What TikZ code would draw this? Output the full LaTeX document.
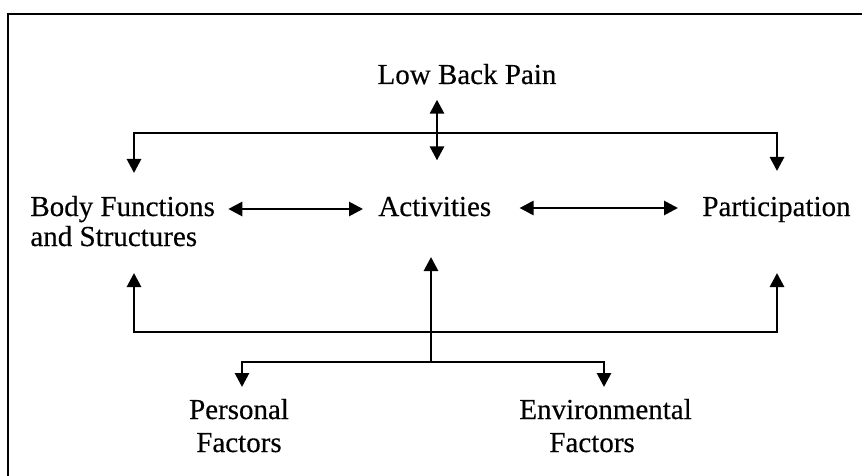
\documentclass[tikz,border=0pt]{standalone}
\usepackage{fontspec}
\setmainfont{Liberation Serif}[FakeBold=0.35]
\usetikzlibrary{arrows.meta,calc}
\tikzset{
  lbl/.style={inner sep=0pt, font=\fontsize{14.5}{15}\selectfont},
  lbltwo/.style={inner sep=0pt, font=\fontsize{14.5}{16.5}\selectfont},
  conn/.style={line width=1.4pt, line join=miter},
  tip/.tip={Triangle[length=7pt,width=7pt]},
  frameline/.style={line width=1pt}
}
\begin{document}
\begin{tikzpicture}[x=0.5pt,y=-0.5pt]
\useasboundingbox (0,0) rectangle (862,476);
% frame
\draw[frameline] (8,476) -- (8,14) -- (862,14);
% labels
\node[lbl, anchor=base] (lbp) at (467,84) {Low Back Pain};
\node[lbl, anchor=base west] (bf) at (30,216) {\begin{tabular}[t]{@{}l@{}}Body Functions\\and Structures\end{tabular}};
\node[lbl, anchor=base west] (act) at (378,216) {Activities};
\node[lbl, anchor=base west] (par) at (702,216) {Participation};
\node[lbltwo, anchor=base] (pf) at (239,419) {\begin{tabular}[t]{@{}c@{}}Personal\\Factors\end{tabular}};
\node[lbltwo, anchor=base west] (ef) at (519,419) {\begin{tabular}[t]{@{}l@{}}Environmental\\\hspace*{15pt}Factors\end{tabular}};
% junction coordinates
\coordinate (tL) at (134,133);
\coordinate (tR) at (777,133);
\coordinate (bL) at (134,332);
\coordinate (bR) at (777,332);
\coordinate (lM) at (431,362);
\coordinate (lL) at (242,362);
\coordinate (lR) at (604,362);
\coordinate (tipBFt) at (134,173);
\coordinate (tipPAt) at (777,171);
\coordinate (tipBFb) at (134,273);
\coordinate (tipPAb) at (777,273);
\coordinate (tipACb) at (431,257);
\coordinate (tipPF) at (242,387);
\coordinate (tipEF) at (604,387);
% Low Back Pain <-> Activities
\draw[conn, tip-tip] ($(lbp.south -| 437,0)+(0,15)$) -- ($(act.north -| 437,0)+(0,-36)$);
% top bracket
\draw[conn, tip-tip] (tipBFt) -- (tL) -- (tR) -- (tipPAt);
% horizontal arrows
\draw[conn, tip-tip] ($(bf.base east)+(13,-7)$) -- ($(act.base west)+(-15,-7)$);
\draw[conn, tip-tip] ($(act.base east)+(28,-8)$) -- ($(par.base west)+(-24,-8)$);
% bottom bracket
\draw[conn, tip-tip] (tipBFb) -- (bL) -- (bR) -- (tipPAb);
\draw[conn, -tip] (lM) -- (tipACb);
% factors
\draw[conn, tip-tip] (tipPF) -- (lL) -- (lR) -- (tipEF);
\end{tikzpicture}
\end{document}
